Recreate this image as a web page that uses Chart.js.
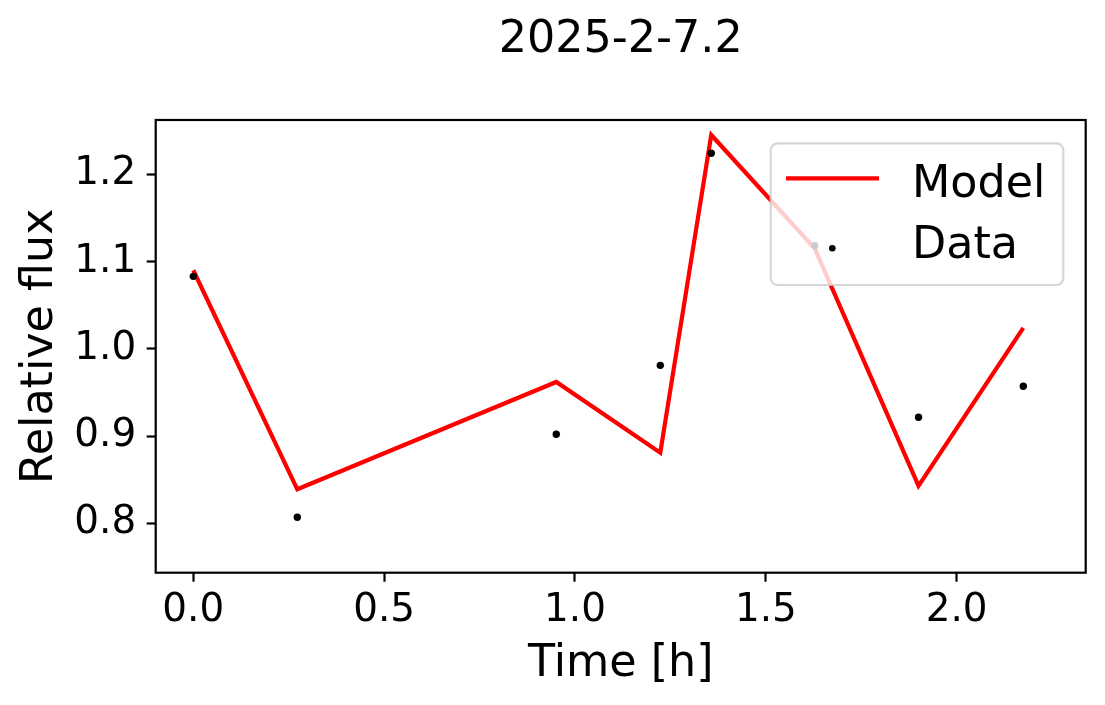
<!DOCTYPE html>
<html>
<head>
<meta charset="utf-8">
<script src="https://cdn.jsdelivr.net/npm/chart.js@4.4.1/dist/chart.umd.min.js"></script>
<style>
  html, body { margin: 0; padding: 0; background: #fff; }
  #chart { display: block; }
</style>
</head>
<body>
<canvas id="chart" width="1105" height="705"></canvas>
<script>
// values
const timeH = [0.0, 0.2725, 0.951, 1.2235, 1.357, 1.628, 1.900, 2.1745];
const modelFlux = [1.090, 0.839, 0.962, 0.881, 1.245, 1.115, 0.843, 1.024];
const dataFlux = [1.083, 0.807, 0.902, 0.981, 1.224, 1.118, 0.9215, 0.957];
const xTicks = [0.0, 0.5, 1.0, 1.5, 2.0];
const yTicks = [0.8, 0.9, 1.0, 1.1, 1.2];

const FONT = "'DejaVu Sans', 'Liberation Sans', sans-serif";

// box around the plot area, like matplotlib spines
const framePlugin = {
  id: "frame",
  afterDatasetsDraw(chart) {
    const { ctx, chartArea: a } = chart;
    ctx.save();
    ctx.strokeStyle = "#000";
    ctx.lineWidth = 2.2;
    ctx.strokeRect(a.left, a.top, a.right - a.left, a.bottom - a.top);
    ctx.restore();
  },
};

// legend box in the upper right of the axes
const legendPlugin = {
  id: "boxLegend",
  afterDraw(chart) {
    const { ctx } = chart;
    const x0 = 770.7, y0 = 143.3, w = 292.6, h = 141.7, r = 7;
    ctx.save();
    ctx.beginPath();
    ctx.roundRect(x0, y0, w, h, r);
    ctx.fillStyle = "rgba(255,255,255,0.8)";
    ctx.fill();
    ctx.lineWidth = 2.2;
    ctx.strokeStyle = "rgba(204,204,204,0.8)";
    ctx.stroke();

    // Model handle
    ctx.beginPath();
    ctx.moveTo(786, 178.3);
    ctx.lineTo(879, 178.3);
    ctx.strokeStyle = "#ff0000";
    ctx.lineWidth = 4.2;
    ctx.stroke();

    // Data handle
    ctx.beginPath();
    ctx.arc(832.3, 248.3, 3.3, 0, Math.PI * 2);
    ctx.fillStyle = "#000";
    ctx.fill();

    ctx.fillStyle = "#000";
    ctx.font = "44.4px " + FONT;
    ctx.textAlign = "left";
    ctx.textBaseline = "alphabetic";
    ctx.fillText("Model", 912, 196.7);
    ctx.fillText("Data", 912, 258.3);
    ctx.restore();
  },
};

new Chart(document.getElementById("chart"), {
  type: "scatter",
  data: {
    datasets: [
      {
        label: "Data",
        data: timeH.map((t, i) => ({ x: t, y: dataFlux[i] })),
        backgroundColor: "#000",
        borderWidth: 0,
        pointRadius: 3.7,
        showLine: false,
      },
      {
        label: "Model",
        data: timeH.map((t, i) => ({ x: t, y: modelFlux[i] })),
        borderColor: "#ff0000",
        borderWidth: 4.2,
        pointRadius: 0,
        showLine: true,
        tension: 0,
      },
    ],
  },
  options: {
    responsive: false,
    animation: false,
    devicePixelRatio: 1,
    layout: { padding: { top: 0, left: 0, right: 19.3, bottom: 0 } },
    plugins: {
      legend: { display: false },
      tooltip: { enabled: false },
      title: {
        display: true,
        text: "2025-2-7.2",
        color: "#000",
        fullSize: false,
        font: { family: FONT, size: 44.4, weight: "normal", lineHeight: 1.2 },
        padding: { top: 13.6, bottom: 53.1 },
      },
    },
    scales: {
      x: {
        type: "linear",
        min: -0.0985,
        max: 2.338,
        afterBuildTicks: (axis) => {
          axis.ticks = xTicks.map((v) => ({ value: v }));
        },
        afterFit: (axis) => {
          axis.height = 132.3;
        },
        border: { display: false },
        grid: {
          drawOnChartArea: false,
          drawTicks: true,
          tickLength: 9,
          tickWidth: 2.2,
          tickColor: "#000",
        },
        ticks: {
          color: "#000",
          padding: 5.5,
          maxRotation: 0,
          font: { family: FONT, size: 38.9, lineHeight: 1.2 },
          callback: (v) => Number(v).toFixed(1),
        },
        title: {
          display: true,
          text: "Time [h]",
          color: "#000",
          font: { family: FONT, size: 44.4, lineHeight: 1.2 },
          padding: { top: 0, bottom: 14 },
        },
      },
      y: {
        type: "linear",
        min: 0.7434,
        max: 1.2622,
        afterBuildTicks: (axis) => {
          axis.ticks = yTicks.map((v) => ({ value: v }));
        },
        afterFit: (axis) => {
          axis.width = 155.7;
        },
        border: { display: false },
        grid: {
          drawOnChartArea: false,
          drawTicks: true,
          tickLength: 9,
          tickWidth: 2.2,
          tickColor: "#000",
        },
        ticks: {
          color: "#000",
          padding: 10.5,
          font: { family: FONT, size: 38.9, lineHeight: 1.2 },
          callback: (v) => Number(v).toFixed(1),
        },
        title: {
          display: true,
          text: "Relative flux",
          color: "#000",
          font: { family: FONT, size: 44.4, lineHeight: 1.2 },
          padding: { top: 13.5, bottom: 0 },
        },
      },
    },
  },
  plugins: [framePlugin, legendPlugin],
});
</script>
</body>
</html>
